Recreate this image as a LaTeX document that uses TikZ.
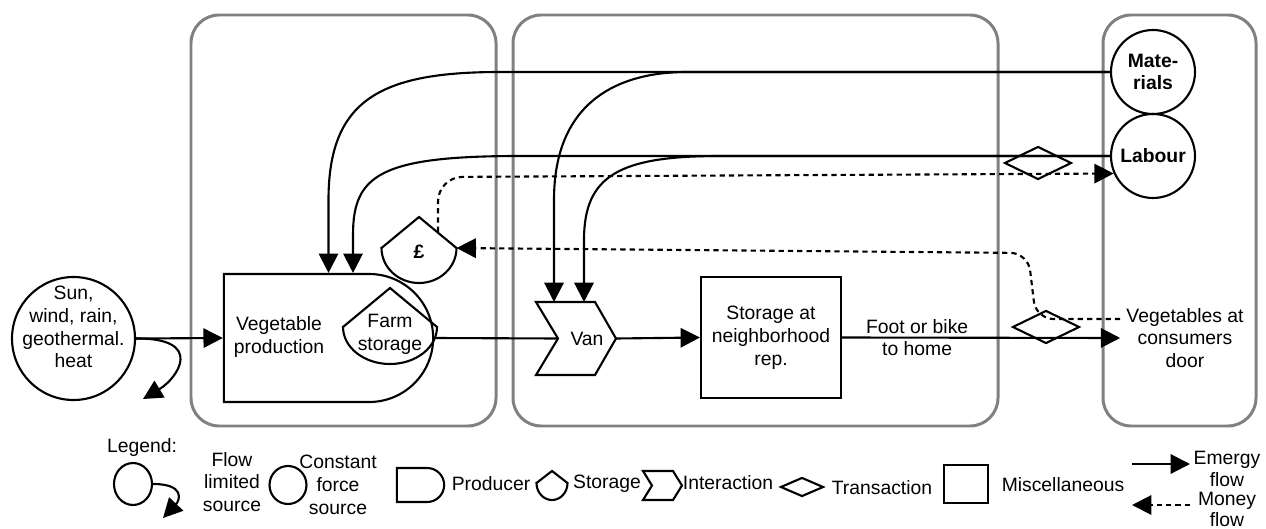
\documentclass[tikz,border=0pt]{standalone}
\usepackage{fontspec}
\setmainfont{Liberation Sans}
\usetikzlibrary{arrows.meta,shapes.geometric,shapes.misc}

\begin{document}
\begin{tikzpicture}[x=0.2mm,y=0.2mm,font=\fontsize{11}{13}\selectfont,
  panel/.style={draw=gray,line width=1.7pt,rounded corners=16pt},
  outl/.style={line width=1.2pt},
  ef/.style={line width=1.2pt,-{Triangle[length=11pt,width=11pt]}},
  mf/.style={ef,dash pattern=on 3pt off 2.3pt},
  src/.style={circle,draw,line width=1.2pt,inner sep=0pt,align=center},
  txt/.style={align=center,inner sep=0pt},
  bold/.style={font=\fontsize{11}{13}\selectfont\bfseries},
  trans/.style={diamond,draw,line width=1.2pt,inner sep=0pt}]
\useasboundingbox (0,0) rectangle (1266,-529);

% panels
\draw[panel] (191,-15) rectangle (496,-426);
\draw[panel] (513,-15) rectangle (998,-426);
\draw[panel] (1103,-15) rectangle (1256,-426);

% sources
\node[src,minimum size=24.6mm] (sun) at (73.5,-338.5) {};
\node[txt] at (73.5,-327) {Sun,\\wind, rain,\\geothermal.\\heat};
\node[src,bold,minimum size=16.8mm] (mat) at (1153,-72) {Mate-\\rials};
\node[src,bold,minimum size=16.8mm] (lab) at (1153,-156) {Labour};
\coordinate (sink) at (143,-399);

% producer with farm storage
\node[rounded rectangle,rounded rectangle left arc=none,draw,outl,
  minimum width=44.2mm,minimum height=25.6mm] (prod) at (328.5,-338) {};
\node[txt] at (279,-337) {Vegetable\\production};
\draw[outl] (343,-327) -- (390,-288) -- (437,-327)
  arc[start angle=0,end angle=-180,x radius=9.4mm,y radius=7.4mm] -- cycle;
\node[txt] (fs) at (390,-334) {Farm\\storage};

% money storage
\draw[outl] (381.5,-248) -- (419,-217) -- (456.5,-248)
  arc[start angle=0,end angle=-180,x radius=7.5mm,y radius=7mm] -- cycle;
\node[bold,inner sep=0pt] (pnd) at (419,-252) {£};
\coordinate (pndr) at (456.5,-248);
\coordinate (pndt) at (438,-232);

% van
\coordinate (vanl) at (558,-338.5);
\coordinate (vanr) at (616,-338.5);
\draw[outl] (536,-302) -- (595,-302) -- (vanr) -- (595,-375) -- (536,-375) -- (vanl) -- cycle;
\node[txt] (van) at (587,-338.5) {Van};
\coordinate (vant1) at (554,-302);
\coordinate (vant2) at (584,-302);

% storage and consumers
\node[draw,outl,minimum width=28mm,minimum height=24.2mm,align=center] (store) at (771,-337.5)
  {Storage at\\neighborhood\\rep.};
\node[align=center] (veg) at (1185,-338) {Vegetables at\\consumers\\door};

% transactions
\node[trans,minimum width=13.4mm,minimum height=6.6mm] (tr1) at (1038,-163) {};
\node[trans,minimum width=13.4mm,minimum height=6.6mm] (tr2) at (1046,-327) {};

% emergy flows
\draw[ef] (sun.east) -- (prod.west);
\draw[ef] (sun.east) .. controls (205,-338) and (178,-378) .. (sink);
\draw[ef] (mat.west) -- (500,-72) .. controls (380,-72) and (328.5,-100) .. (328.5,-200) -- (prod.north);
\draw[ef] (mat.west) -- (687,-72) .. controls (620,-72) and (554,-100) .. (554,-200) -- (vant1);
\draw[ef] (lab.west) -- (520,-156) .. controls (380,-156) and (353,-175) .. (353,-235)
  -- ([xshift=4.9mm]prod.north);
\draw[ef] (lab.west) -- (720,-156) .. controls (620,-156) and (584,-175) .. (584,-240) -- (vant2);
\draw[outl] (prod.east) -- (vanl);
\draw[ef] (vanr) -- (store.west);
\draw[ef] (store.east) -- node[txt,pos=0.27]{Foot or bike\\to home} (veg.west);

% money flows
\draw[mf,rounded corners=14pt] (pndt) -- (438,-177) -- (lab.204);
\draw[mf,rounded corners=10pt] ([yshift=3.8mm]veg.west) -- (1036,-319) -- (1028,-253) -- (pndr);

% legend
\node[txt] at (142,-447) {Legend:};
\node[ellipse,draw,outl,minimum width=7.6mm,minimum height=8.4mm,inner sep=0pt] (lsrc) at (133,-484) {};
\coordinate (lsink) at (163,-518);
\draw[ef] (lsrc.east) .. controls (185,-484) and (180,-500) .. (lsink);
\node[txt] at (232,-482) {Flow\\limited\\source};
\node[ellipse,draw,outl,minimum width=7.4mm,minimum height=7.6mm,inner sep=0pt] (lcon) at (288,-485) {};
\node[txt] at (338,-485) {Constant\\force\\source};
\node[rounded rectangle,rounded rectangle left arc=none,draw,outl,
  minimum width=11.8mm,minimum height=6.8mm] (lprod) at (420.5,-485) {};
\node[txt] at (491,-484) {Producer};
\draw[outl] (536.5,-483) -- (552,-471) -- (567.5,-483)
  arc[start angle=0,end angle=-180,x radius=3.1mm,y radius=3.4mm] -- cycle;
\node[txt] at (607,-484) {Storage};
\draw[outl] (643,-471) -- (673,-471) -- (682,-485.5) -- (673,-500) -- (643,-500) -- (652,-485.5) -- cycle;
\node[txt] at (728,-483) {Interaction};
\node[trans,minimum width=8.6mm,minimum height=3.8mm] (ltr) at (802,-487) {};
\node[txt] at (882,-488) {Transaction};
\node[draw,outl,minimum width=8.8mm,minimum height=7.6mm] (lmisc) at (966,-484) {};
\node[txt] at (1063,-485) {Miscellaneous};
\coordinate (le1) at (1132,-464);
\coordinate (le2) at (1190,-464);
\draw[ef] (le1) -- (le2);
\node[txt] at (1227,-469) {Emergy\\flow};
\coordinate (lm1) at (1190,-505);
\coordinate (lm2) at (1132,-505);
\draw[mf] (lm1) -- (lm2);
\node[txt,font=\fontsize{11}{12}\selectfont] at (1227,-509) {Money\\flow};
\end{tikzpicture}
\end{document}
